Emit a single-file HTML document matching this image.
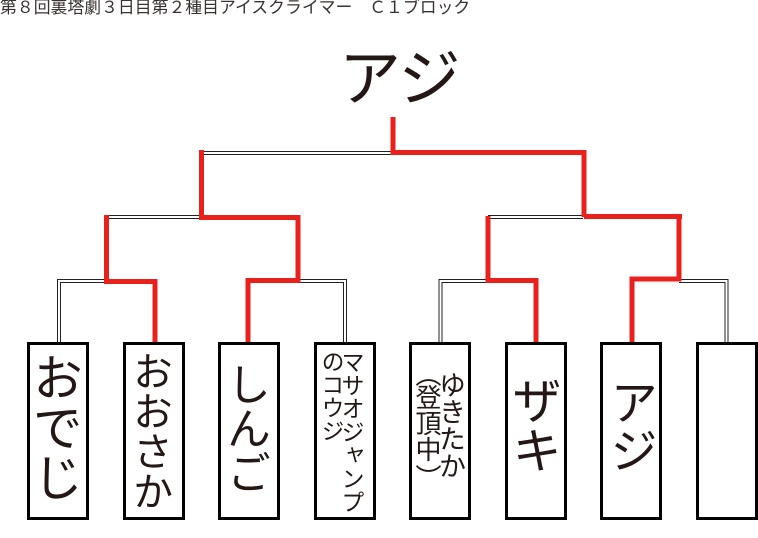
<!DOCTYPE html>
<html lang="ja">
<head>
<meta charset="utf-8">
<style>
html,body{margin:0;padding:0;background:#fff;}
#p{position:relative;width:758px;height:538px;overflow:hidden;background:#fff;font-family:"Liberation Sans","Noto Sans CJK JP",sans-serif;color:#231815;}
svg{position:absolute;left:0;top:0;}
.b{position:absolute;top:342px;width:56px;height:172px;border:3px solid #000;background:#fff;}
.v{position:absolute;writing-mode:vertical-rl;white-space:nowrap;text-orientation:mixed;}
.h{position:absolute;white-space:nowrap;}
</style>
</head>
<body>
<div id="p">
<div class="h" style="left:0;top:-4px;font-size:16.85px;line-height:24px;color:#3a3230;">第８回裏塔劇３日目第２種目アイスクライマー　Ｃ１ブロック</div>
<div class="h" style="left:339px;top:45px;font-size:62px;line-height:70px;">アジ</div>
<svg width="758" height="538" viewBox="0 0 758 538">
<g fill="none" stroke="#222" stroke-width="1">
<path d="M203 151.5H392M203 154.5H392"/>
<path d="M109 215.5H200M109 218.5H200"/>
<path d="M57.5 344V279.5H108M60.5 344V282.5H108"/>
<path d="M298 279.5H346.5V344M298 282.5H343.5V344"/>
<path d="M488 215.5H583M488 218.5H583"/>
<path d="M439 344V279.5H488M442 344V282.5H488"/>
<path d="M679 279.5H728V344M679 282.5H725V344"/>
</g>
<g fill="none" stroke="#e8211d" stroke-width="5" stroke-linejoin="miter">
<path d="M393 117V152.5H584V217"/>
<path d="M201.5 150V217.5H298V280.5H248V343"/>
<path d="M106.5 215V281.5H155V343"/>
<path d="M584 216.5H682"/>
<path d="M488 216V280.5H536V343"/>
<path d="M679 217V279H632V343"/>
</g>
</svg>
<div class="b" style="left:27px;"></div>
<div class="b" style="left:123px;"></div>
<div class="b" style="left:218px;"></div>
<div class="b" style="left:314px;"></div>
<div class="b" style="left:409px;"></div>
<div class="b" style="left:505px;"></div>
<div class="b" style="left:600px;"></div>
<div class="b" style="left:696px;"></div>
<div class="v" style="left:29px;top:352px;font-size:50px;line-height:50px;">おでじ</div>
<div class="v" style="left:129px;top:351px;font-size:40px;line-height:40px;">おおさか</div>
<div class="v" style="left:222px;top:362px;font-size:44px;line-height:44px;">しんご</div>
<div class="v" style="left:339px;top:350px;font-size:23.3px;line-height:24px;">マサオジャンプ</div>
<div class="v" style="left:319px;top:350px;font-size:23px;line-height:23px;">のコウジ</div>
<div class="v" style="left:436px;top:371px;font-size:27px;line-height:27px;">ゆきたか</div>
<div class="v" style="left:414px;top:384px;font-size:26px;line-height:26px;">登頂中</div>
<div class="v" style="left:414px;top:361px;font-size:26px;line-height:26px;">（</div>
<div class="v" style="left:414px;top:464px;font-size:26px;line-height:26px;">）</div>
<div class="v" style="left:508px;top:375px;font-size:50px;line-height:50px;">ザキ</div>
<div class="v" style="left:604px;top:378px;font-size:48px;line-height:48px;">アジ</div>
</div>
</body>
</html>
